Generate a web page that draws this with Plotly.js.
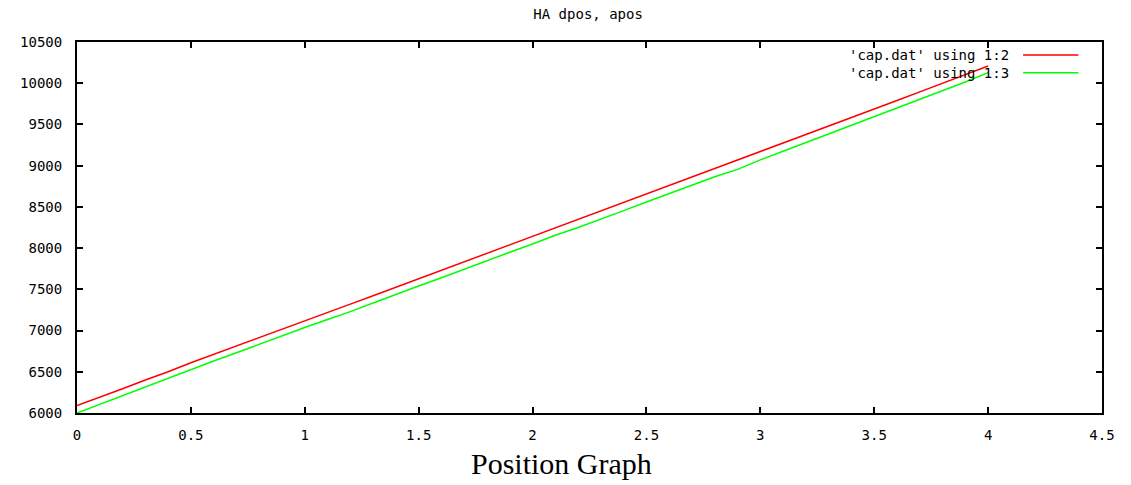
<!DOCTYPE html>
<html><head><meta charset="utf-8">
<script src="https://cdn.plot.ly/plotly-3.0.1.min.js"></script>
<style>html,body{margin:0;padding:0;background:#fff}#chart{width:1131px;height:485px}</style>
</head><body><div id="chart"></div>
<script>
const xs = [0,0.1,0.2,0.3,0.4,0.5,0.6,0.7,0.8,0.9,1,1.1,1.2,1.3,1.4,1.5,1.6,1.7,1.8,1.9,2,2.1,2.2,2.3,2.4,2.5,2.6,2.7,2.8,2.9,3,3.1,3.2,3.3,3.4,3.5,3.6,3.7,3.8,3.9,4];
const dpos = [6090,6190,6295,6400,6500,6610,6710,6812,6912,7012,7118,7218,7320,7422,7525,7628,7728,7832,7935,8035,8140,8242,8345,8445,8548,8650,8752,8855,8958,9060,9165,9268,9372,9478,9580,9685,9790,9895,10000,10102,10208];
const apos = [6000,6105,6210,6315,6420,6530,6630,6730,6835,6935,7037,7135,7230,7335,7440,7540,7640,7745,7848,7950,8050,8155,8250,8350,8455,8560,8660,8765,8865,8955,9070,9175,9280,9385,9490,9595,9700,9800,9910,10015,10128];
const seriesNames = ["'cap.dat' using 1:2","'cap.dat' using 1:3"];
const chartTitle = "HA dpos, apos";
const caption = "Position Graph";
const xTicks = [0,0.5,1,1.5,2,2.5,3,3.5,4,4.5];
const yTicks = [6000,6500,7000,7500,8000,8500,9000,9500,10000,10500];

const mono = "DejaVu Sans Mono, Liberation Mono, monospace";
const traces = [
  {x: xs, y: dpos, mode: 'lines', name: seriesNames[0], line: {color: '#ff0000', width: 1.5}, showlegend: false},
  {x: xs, y: apos, mode: 'lines', name: seriesNames[1], line: {color: '#00ff00', width: 1.5}, showlegend: false}
];
const axisCommon = {
  showgrid: false, zeroline: false, showline: true, linecolor: '#000', linewidth: 2,
  mirror: 'ticks', ticks: 'inside', ticklen: 6, tickwidth: 2, tickcolor: '#000',
  tickfont: {family: mono, size: 14, color: '#000'}
};
const layout = {
  width: 1131, height: 485,
  margin: {l: 77, r: 29, t: 42, b: 72},
  paper_bgcolor: '#fff', plot_bgcolor: '#fff',
  title: {text: chartTitle, font: {family: mono, size: 14, color: '#000'}, x: 0.52, xanchor: 'center', y: 0.97, yanchor: 'middle'},
  xaxis: Object.assign({}, axisCommon, {range: [0, 4.5], tickvals: xTicks, ticktext: xTicks.map(String), ticklabelstandoff: 8}),
  yaxis: Object.assign({}, axisCommon, {range: [6000, 10500], tickvals: yTicks, ticktext: yTicks.map(String), ticklabelstandoff: 10}),
  annotations: [
    {text: seriesNames[0], xref: 'paper', yref: 'paper', x: 0.911, y: 0.965, xanchor: 'right', yanchor: 'middle', showarrow: false, font: {family: mono, size: 14, color: '#000'}},
    {text: seriesNames[1], xref: 'paper', yref: 'paper', x: 0.911, y: 0.917, xanchor: 'right', yanchor: 'middle', showarrow: false, font: {family: mono, size: 14, color: '#000'}},
    {text: caption, xref: 'paper', yref: 'paper', x: 0.473, y: -0.135, xanchor: 'center', yanchor: 'middle', showarrow: false, font: {family: 'Liberation Serif, Times New Roman, serif', size: 30, color: '#000'}}
  ],
  shapes: [
    {type: 'line', xref: 'paper', yref: 'paper', x0: 0.923, x1: 0.977, y0: 0.965, y1: 0.965, line: {color: '#ff0000', width: 1.5}},
    {type: 'line', xref: 'paper', yref: 'paper', x0: 0.923, x1: 0.977, y0: 0.917, y1: 0.917, line: {color: '#00ff00', width: 1.5}}
  ]
};
Plotly.newPlot('chart', traces, layout, {displayModeBar: false, staticPlot: true});
</script></body></html>
